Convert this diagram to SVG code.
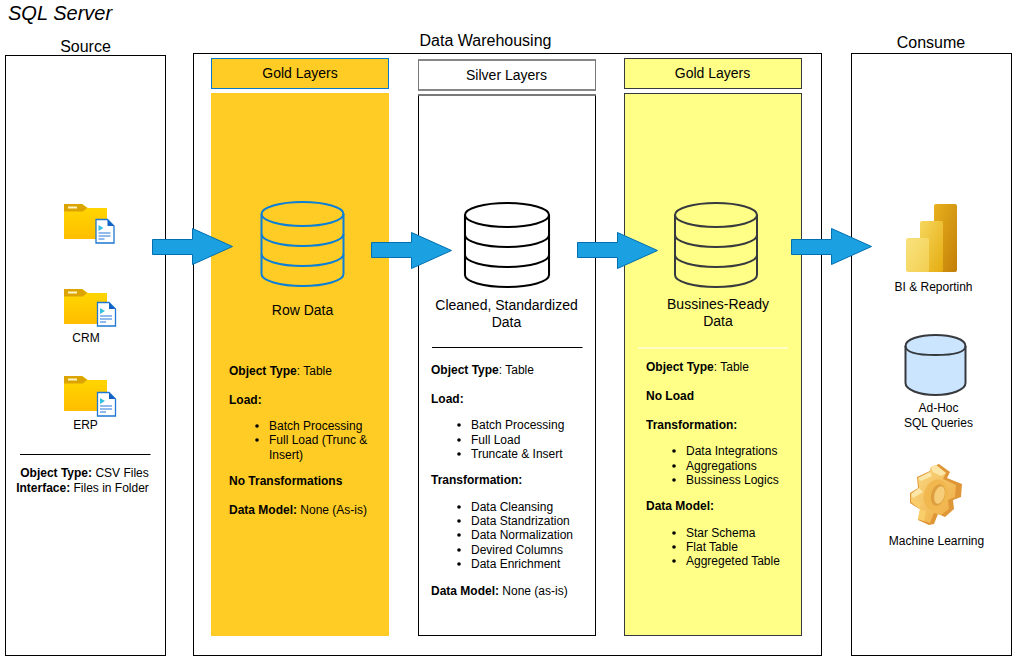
<svg xmlns="http://www.w3.org/2000/svg" xmlns:xlink="http://www.w3.org/1999/xlink" width="1013" height="656" viewBox="0 0 1013 656">
<style>
text{font-family:"Liberation Sans",Arial,sans-serif;font-size:12px;fill:#000}
.t16{font-size:16px}
.t14{font-size:14px}
.m{text-anchor:middle}
.b{font-weight:bold}
.box{fill:#fff;stroke:#000;stroke-width:1}
.arrow{fill:#1ba1e2;stroke:#006eaf;stroke-width:1}
.cyl{fill:none;stroke-width:2}
</style>
<defs>
<linearGradient id="fg" x1="0" y1="0" x2="0" y2="1"><stop offset="0" stop-color="#ffd800"/><stop offset="1" stop-color="#ffbe00"/></linearGradient>
<linearGradient id="b1" x1="0" y1="0" x2="1" y2="1"><stop offset="0" stop-color="#f8e27e"/><stop offset="1" stop-color="#f3cf52"/></linearGradient>
<linearGradient id="b2" x1="0" y1="0" x2="1" y2="1"><stop offset="0" stop-color="#f6d75e"/><stop offset="1" stop-color="#e5ac10"/></linearGradient>
<linearGradient id="b3" x1="0" y1="0" x2="1" y2="1"><stop offset="0" stop-color="#e9b11e"/><stop offset="1" stop-color="#c27e08"/></linearGradient>
<linearGradient id="gear" x1="0" y1="0" x2="1" y2="1"><stop offset="0" stop-color="#fbdc88"/><stop offset="1" stop-color="#eda93e"/></linearGradient>
<g id="folder">
<path d="M0 0H18L24 4H43V35H0Z" fill="url(#fg)"/>
<path d="M0 0H18L23 4L19 7.500H0Z" fill="#dca400"/>
<rect x="4" y="2.500" width="9" height="2" fill="#fff4c8"/>
</g>
<g id="doc">
<path d="M0.500 0.500H12L18.500 7V24H0.500Z" fill="#fff" stroke="#1e78d2" stroke-width="1.300"/>
<path d="M12 0.500L18.500 7H12Z" fill="#1262c4"/>
<path d="M3 6V12L8 9Z" fill="#35bfe0"/>
<path d="M3 14H15M3 17H15M3 20H9" stroke="#6ea5e8" stroke-width="1.300" fill="none"/>
</g>
<g id="cylinder">
<ellipse cx="0" cy="12" rx="41" ry="12"/>
<path d="M-41 12V72C-41 78.600 -22.600 84 0 84S41 78.600 41 72V12"/>
<path d="M-41 32C-41 38.600 -22.600 44 0 44S41 38.600 41 32"/>
<path d="M-41 52C-41 58.600 -22.600 64 0 64S41 58.600 41 52"/>
</g>
</defs>

<text x="8" y="20" style="font-size:20px;font-style:italic" id="title">SQL Server</text>

<g id="source">
<rect class="box" x="5.500" y="55.500" width="160" height="600"/>
<text class="t16 m" x="85.500" y="52">Source</text>
<g id="source-folder"><use xlink:href="#folder" href="#folder" x="64" y="204"/><use xlink:href="#doc" href="#doc" x="95.500" y="219"/></g>
<g id="source-crm"><use xlink:href="#folder" href="#folder" x="64" y="289"/><use xlink:href="#doc" href="#doc" x="97" y="302"/><text class="m" x="86" y="342">CRM</text></g>
<g id="source-erp"><use xlink:href="#folder" href="#folder" x="64" y="376"/><use xlink:href="#doc" href="#doc" x="97" y="392"/><text class="m" x="85.500" y="429">ERP</text></g>
<path d="M20 454.500H150.500" stroke="#000" fill="none"/>
<text class="m" x="84.500" y="477"><tspan class="b">Object Type:</tspan> CSV Files</text>
<text class="m" x="82.500" y="492"><tspan class="b">Interface:</tspan> Files in Folder</text>
</g>

<g id="warehouse">
<rect class="box" x="193.500" y="53.500" width="628" height="602"/>
<text class="t16 m" x="485.500" y="46">Data Warehousing</text>
</g>

<g id="consume">
<rect class="box" x="851.500" y="53.500" width="160" height="602"/>
<text class="t16 m" x="931" y="48">Consume</text>
<g id="bi">
<rect x="934" y="204" width="23" height="68" rx="2" fill="url(#b3)"/>
<rect x="920" y="221" width="23" height="51" rx="2" fill="url(#b2)"/>
<rect x="906" y="238" width="23" height="34" rx="2" fill="url(#b1)"/>
<text class="m" x="933.500" y="291">BI &amp; Reportinh</text>
</g>
<g id="adhoc">
<path d="M905.500 346C905.500 339.400 919 335 935.500 335S965.500 339.400 965.500 346V383C965.500 389.600 952 395 935.500 395S905.500 389.600 905.500 383Z" fill="#cce5ff" stroke="#36393d" stroke-width="2"/>
<path d="M905.500 346C905.500 352.600 919 355 935.500 355S965.500 352.600 965.500 346" fill="none" stroke="#36393d" stroke-width="2"/>
<text class="m" x="938.500" y="412">Ad-Hoc</text>
<text class="m" x="938.500" y="427">SQL Queries</text>
</g>
<g id="ml">
<path d="M939 464L950 472L947 478L962 484L961 497L953 500L954 509L945 517L938 514L934 524L929 525L918 520L921 510L910 503L910 493L918 488L917 477L930 471L931 467Z" fill="#df9636"/>
<path d="M936 465L946 473L943 479L956 485L955 497L948 500L949 509L941 515L934 513L930 523L918 519L920 509L911 502L911 494L919 488L918 478L930 472L931 467Z" fill="url(#gear)"/>
<path d="M931 467L936 465L946 473L941 476L933 472ZM911 494L919 488L923 492L913 498ZM918 478L930 472L932 476L921 481Z" fill="#fde7a8"/>
<path d="M918 519L920 509L926 511L924 521ZM911 502L913 498L921 503L920 509Z" fill="#f9cd6a"/>
<ellipse cx="936" cy="495" rx="12" ry="16" transform="rotate(15 936 495)" fill="#f2b850"/>
<ellipse cx="938" cy="495" rx="7" ry="11" transform="rotate(15 938 495)" fill="#dd9f40"/>
<ellipse cx="939.500" cy="495" rx="5" ry="9" transform="rotate(15 939.500 495)" fill="#f6cd78"/>
<text class="m" x="936.500" y="545">Machine Learning</text>
</g>
</g>

<g id="bronze-layer">
<rect x="211.500" y="58.500" width="177" height="30" fill="#ffcc26" stroke="#0a78c8"/>
<text class="m t14" x="300" y="77.500">Gold Layers</text>
<rect x="211" y="93" width="178" height="543" fill="#ffcc26"/>
<use xlink:href="#cylinder" href="#cylinder" x="302.500" y="202" class="cyl" stroke="#0a7fd8"/>
<text class="m t14" x="302.500" y="315">Row Data</text>
<text x="229" y="375"><tspan class="b">Object Type</tspan>: Table</text>
<text class="b" x="229" y="404">Load:</text>
<circle cx="257" cy="426" r="1.800"/><text x="269" y="430">Batch Processing</text>
<circle cx="257" cy="440" r="1.800"/><text x="269" y="444">Full Load (Trunc &amp;</text>
<text x="269" y="459">Insert)</text>
<text class="b" x="229" y="485">No Transformations</text>
<text x="229" y="514"><tspan class="b">Data Model:</tspan> None (As-is)</text>
</g>

<g id="silver-layer">
<rect x="418.500" y="60" width="177" height="30" fill="#fff" stroke="#777" stroke-width="1"/>
<path d="M418 60H596M418 90H596" stroke="#777" stroke-width="1.500" fill="none"/>
<text class="m t14" x="506.500" y="80">Silver Layers</text>
<rect x="418.500" y="95" width="177" height="540.500" fill="#fff" stroke="#000"/>
<path d="M418 95H596" stroke="#777" stroke-width="1.500" fill="none"/>
<g transform="translate(507 203) scale(1.025 1) translate(-507 -203)"><use xlink:href="#cylinder" href="#cylinder" x="507" y="203" class="cyl" stroke="#000"/></g>
<text class="m t14" x="506.500" y="310">Cleaned, Standardized</text>
<text class="m t14" x="506.500" y="327">Data</text>
<path d="M432 347.500H582.500" stroke="#000" fill="none"/>
<text x="431" y="374"><tspan class="b">Object Type</tspan>: Table</text>
<text class="b" x="431" y="403">Load:</text>
<circle cx="459" cy="425" r="1.800"/><text x="471" y="429">Batch Processing</text>
<circle cx="459" cy="440" r="1.800"/><text x="471" y="444">Full Load</text>
<circle cx="459" cy="454" r="1.800"/><text x="471" y="458">Truncate &amp; Insert</text>
<text class="b" x="431" y="484">Transformation:</text>
<circle cx="459" cy="507" r="1.800"/><text x="471" y="511">Data Cleansing</text>
<circle cx="459" cy="521" r="1.800"/><text x="471" y="525">Data Standrization</text>
<circle cx="459" cy="535" r="1.800"/><text x="471" y="539">Data Normalization</text>
<circle cx="459" cy="550" r="1.800"/><text x="471" y="554">Devired Columns</text>
<circle cx="459" cy="564" r="1.800"/><text x="471" y="568">Data Enrichment</text>
<text x="431" y="595"><tspan class="b">Data Model:</tspan> None (as-is)</text>
</g>

<g id="gold-layer">
<rect x="624.500" y="58.500" width="177" height="30" fill="#ffff88" stroke="#36393d"/>
<text class="m t14" x="712.500" y="78">Gold Layers</text>
<rect x="624.500" y="93.500" width="177" height="542" fill="#ffff88" stroke="#36393d"/>
<use xlink:href="#cylinder" href="#cylinder" x="716" y="203" class="cyl" stroke="#36393d"/>
<text class="m t14" x="718" y="309">Bussines-Ready</text>
<text class="m t14" x="718" y="326">Data</text>
<path d="M638 348H788" stroke="#fff" fill="none"/>
<text x="646" y="371"><tspan class="b">Object Type</tspan>: Table</text>
<text class="b" x="646" y="400">No Load</text>
<text class="b" x="646" y="429">Transformation:</text>
<circle cx="674" cy="451" r="1.800"/><text x="686" y="455">Data Integrations</text>
<circle cx="674" cy="466" r="1.800"/><text x="686" y="470">Aggregations</text>
<circle cx="674" cy="480" r="1.800"/><text x="686" y="484">Bussiness Logics</text>
<text class="b" x="646" y="510">Data Model:</text>
<circle cx="674" cy="533" r="1.800"/><text x="686" y="537">Star Schema</text>
<circle cx="674" cy="547" r="1.800"/><text x="686" y="551">Flat Table</text>
<circle cx="674" cy="561" r="1.800"/><text x="686" y="565">Aggregeted Table</text>
</g>

<g id="connectors">
<path class="arrow" d="M152.500 239.500H192.500V228.500L232.500 246.500L192.500 264.500V254.500H152.500Z"/>
<path class="arrow" d="M371.500 242.500H411.500V232.500L451.500 250.500L411.500 268.500V257.500H371.500Z"/>
<path class="arrow" d="M577.500 242.500H617.500V232.500L657.500 250.500L617.500 268.500V257.500H577.500Z"/>
<path class="arrow" d="M791.500 239.500H831.500V228.500L871.500 246.500L831.500 264.500V254.500H791.500Z"/>
</g>
</svg>
